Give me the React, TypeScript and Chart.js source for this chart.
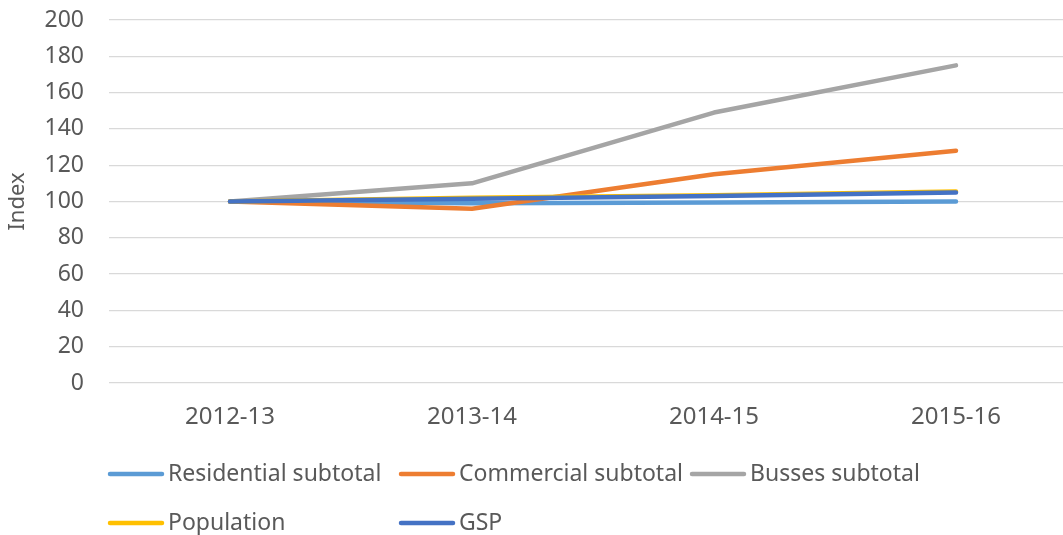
import React, { useEffect, useRef } from "react";
import { Chart, registerables } from "chart.js";

Chart.register(...registerables);

const categories = ["2012-13", "2013-14", "2014-15", "2015-16"];
const residential = [100, 99, 99.5, 100];
const commercial = [100, 96, 115, 128];
const busses = [100, 110, 149, 175];
const population = [100, 102, 103.5, 105.5];
const gsp = [100, 101.5, 103, 105];

const seriesLabels = ["Residential subtotal", "Commercial subtotal", "Busses subtotal", "Population", "GSP"];
const seriesColors = ["#5B9BD5", "#ED7D31", "#A5A5A5", "#FFC000", "#4472C4"];
const yTicks = { min: 0, max: 200, step: 20 };

const FONT = "'Noto Sans', sans-serif";
const TEXT = "#595959";

const legendPlugin = {
  id: "gridLegend",
  afterDraw(chart: any) {
    const ctx = chart.ctx;
    ctx.save();
    ctx.font = `23px ${FONT}`;
    ctx.textBaseline = "middle";
    ctx.textAlign = "left";
    chart.data.datasets.forEach((ds: any, i: number) => {
      const col = i % 3;
      const row = Math.floor(i / 3);
      const x = 108 + col * 291;
      const y = 474 + row * 49;
      ctx.strokeStyle = ds.borderColor;
      ctx.lineWidth = 4.5;
      ctx.lineCap = "round";
      ctx.beginPath();
      ctx.moveTo(x + 2, y);
      ctx.lineTo(x + 54, y);
      ctx.stroke();
      ctx.fillStyle = TEXT;
      ctx.fillText(ds.label, x + 60, y);
    });
    ctx.restore();
  },
};

export default function App() {
  const ref = useRef<HTMLCanvasElement>(null);
  useEffect(() => {
    if (!ref.current) return;
    const values = [residential, commercial, busses, population, gsp];
    const chart = new Chart(ref.current, {
      type: "line",
      data: {
        labels: categories,
        datasets: values.map((v, i) => ({
          label: seriesLabels[i],
          data: v,
          borderColor: seriesColors[i],
          backgroundColor: seriesColors[i],
          borderWidth: 4.5,
          borderCapStyle: "round",
          borderJoinStyle: "round",
          pointRadius: 0,
          tension: 0,
          fill: false,
          order: values.length - 1 - i,
        })),
      },
      options: {
        responsive: false,
        animation: false,
        devicePixelRatio: 1,
        layout: { padding: { top: 20, right: 3, left: 0, bottom: 0 } },
        plugins: { legend: { display: false }, tooltip: { enabled: false } },
        scales: {
          x: {
            offset: true,
            grid: { display: false, drawTicks: false },
            border: { display: false },
            ticks: { color: TEXT, font: { family: FONT, size: 24 }, padding: 20, maxRotation: 0 },
            afterFit(scale: any) {
              scale.height = 152;
              scale.paddingLeft = 0;
              scale.paddingRight = 0;
            },
          },
          y: {
            min: yTicks.min,
            max: yTicks.max,
            grid: { color: "#D9D9D9", lineWidth: 1.3, drawTicks: false },
            border: { display: false },
            ticks: { stepSize: yTicks.step, color: TEXT, font: { family: FONT, size: 23 }, padding: 25 },
            title: {
              display: true,
              text: "Index",
              color: TEXT,
              font: { family: FONT, size: 22 },
              padding: { top: 5, bottom: 0 },
            },
            afterFit(scale: any) {
              scale.width = 109;
              scale.paddingTop = 0;
              scale.paddingBottom = 0;
            },
          },
        },
      },
      plugins: [legendPlugin],
    });
    return () => chart.destroy();
  }, []);
  return (
    <div style={{ position: "absolute", left: 0, top: 0, width: 1063, height: 535, overflow: "hidden", background: "#fff" }}>
      <canvas ref={ref} width={1080} height={535} />
    </div>
  );
}
